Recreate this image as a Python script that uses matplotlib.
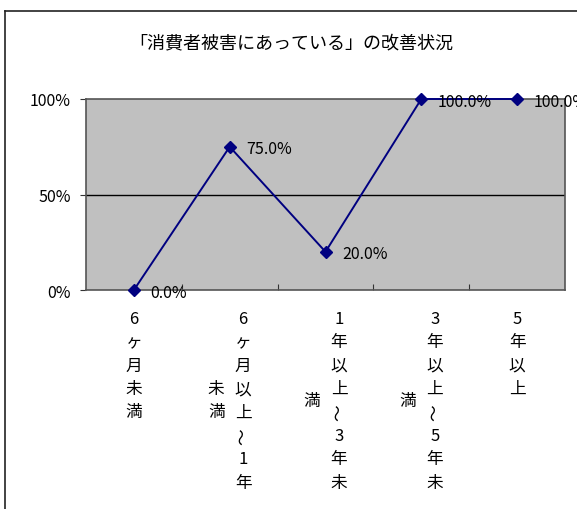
import matplotlib
matplotlib.use('Agg')
import matplotlib.pyplot as plt
from matplotlib.lines import Line2D
from matplotlib import transforms

plt.rcParams['font.family'] = ['Noto Sans CJK JP', 'DejaVu Sans']

title = '「消費者被害にあっている」の改善状況'
categories = ['6ヶ月未満', '6ヶ月以上～1年未満', '1年以上～3年未満',
              '3年以上～5年未満', '5年以上']
values = [0.0, 75.0, 20.0, 100.0, 100.0]
y_ticks = [0, 50, 100]
y_tick_labels = ['0%', '50%', '100%']

W, H = 577, 510
fig = plt.figure(figsize=(W / 100, H / 100), dpi=100)

# plot area in pixels: left 86, right 565, top 100, bottom 291
ax = fig.add_axes([86 / W, (H - 291) / H, (565 - 86) / W, (291 - 100) / H])
ax.set_facecolor('#c0c0c0')

x = list(range(len(categories)))
ax.plot(x, values, color='#000080', lw=1.4, marker='D', markersize=6,
        clip_on=False, zorder=3)

for xi, v in zip(x, values):
    ax.annotate(f'{v:.1f}%', (xi, v), xytext=(12, -1.5), textcoords='offset points',
                va='center', ha='left', fontsize=11.5, color='black',
                annotation_clip=False, zorder=4)

ax.set_xlim(-0.5, len(categories) - 0.5)
ax.set_ylim(0, 100)
ax.set_yticks(y_ticks)
ax.set_yticklabels(y_tick_labels, fontsize=11.5)
ax.tick_params(axis='y', direction='out', length=4, width=0.8, pad=7, color='#333333')
ax.set_xticks([i + 0.5 for i in x[:-1]])
ax.set_xticklabels([])
ax.tick_params(axis='x', direction='in', length=4, width=0.8, color='#333333')
ax.axhline(50, color='black', lw=1, zorder=1)
for s in ax.spines.values():
    s.set_color('#555555')
    s.set_linewidth(1.2)

fig.text(291 / W, (H - 43) / H, title, ha='center', va='center', fontsize=13)

# vertical category labels, 8 characters per column, columns right to left
row0, row_h, col_w, max_rows = 319, 23.5, 27, 8
blend = transforms.blended_transform_factory(ax.transData, fig.transFigure)
for xi, label in zip(x, categories):
    cols = [label[i:i + max_rows] for i in range(0, len(label), max_rows)]
    n = len(cols)
    nrows = max(len(c) for c in cols)
    for ci, col in enumerate(cols):
        dx = ((n - 1) / 2 - ci) * col_w
        start = (nrows - len(col)) / 2
        for ri, ch in enumerate(col):
            ypix = row0 + (start + ri) * row_h
            tr = blend + transforms.ScaledTranslation(dx / 100, 0, fig.dpi_scale_trans)
            rot = 90 if ch == '～' else 0
            fig.text(xi, (H - ypix) / H, ch, transform=tr, ha='center', va='center',
                     fontsize=12, rotation=rot)

# outer chart frame (cut off at right and bottom)
fig.add_artist(Line2D([5 / W, 5 / W], [0, (H - 12) / H], color='#222222', lw=1.2))
fig.add_artist(Line2D([5 / W, 1], [(H - 12) / H, (H - 12) / H], color='#222222', lw=1.2))

fig.savefig('out.png', dpi=100)
